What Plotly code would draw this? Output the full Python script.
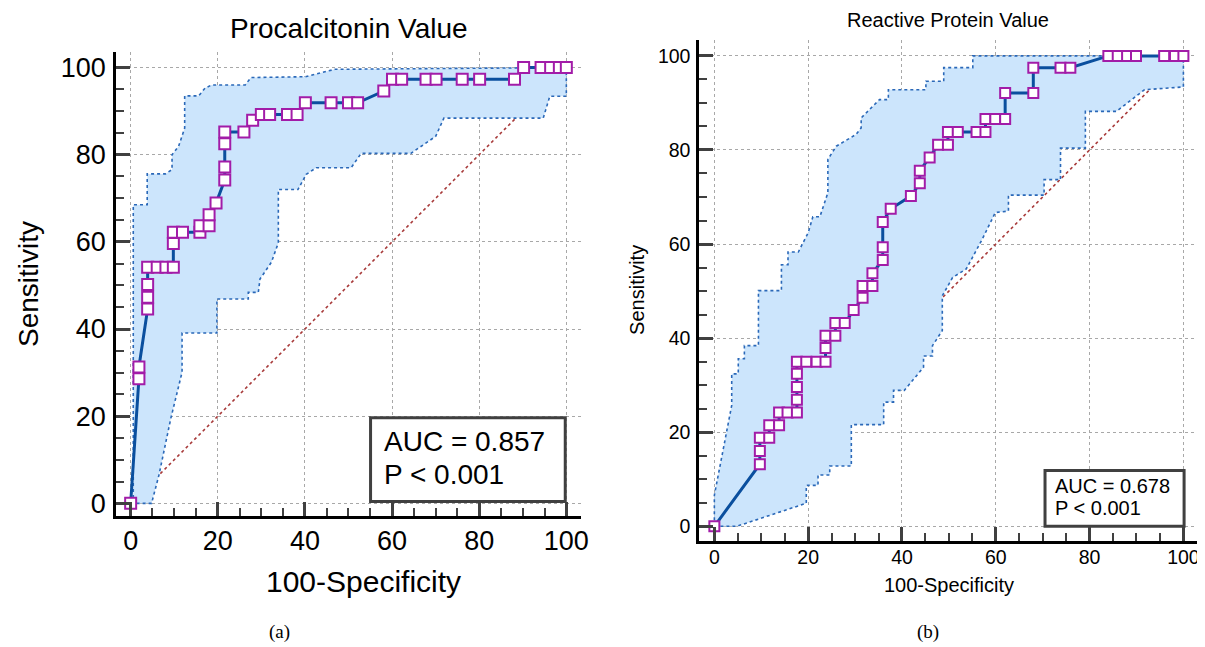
import plotly.graph_objects as go

# The page body adds an 8px margin, so the figure is laid out in page pixels minus 8.
OFF = 8
W, H = 1205 - OFF, 647 - OFF

# ---------------- Data: (a) Procalcitonin ----------------
pct_fpr = [0, 1.9, 1.9, 3.9, 3.9, 3.9, 3.9, 6.1, 8.1, 9.8, 9.8, 9.8, 11.9, 15.9, 15.9,
           18.0, 18.0, 19.6, 21.6, 21.6, 21.6, 21.6, 26.0, 28.0, 30.0, 31.9, 36.0, 38.2,
           40.1, 46.0, 50.0, 52.1, 58.1, 60.1, 62.2, 67.8, 70.1, 76.1, 80.1, 88.1, 90.2,
           94.2, 96.4, 98.4, 100]
pct_sens = [0, 28.6, 31.3, 44.6, 47.3, 50.2, 54.2, 54.2, 54.2, 54.2, 59.6, 62.2, 62.2, 62.2,
            63.7, 63.7, 66.2, 68.9, 74.2, 77.2, 82.5, 85.2, 85.2, 87.9, 89.2, 89.2, 89.2,
            89.2, 91.9, 91.9, 91.9, 91.9, 94.6, 97.3, 97.3, 97.3, 97.3, 97.3, 97.3, 97.3,
            100, 100, 100, 100, 100]
pct_up_x = [0, 0.6, 0.6, 3.8, 3.8, 8.0, 9.5, 9.5, 11.0, 12.4, 12.4, 15.6, 17.1, 18.6, 26.3,
            27.6, 40.1, 46.9, 100]
pct_up_y = [0, 1, 68.5, 68.5, 75.6, 75.6, 76.6, 80.0, 81.9, 86.1, 93.5, 93.5, 95.3, 96.0,
            96.0, 97.7, 97.9, 99.6, 100]
pct_lo_x = [0, 4.8, 6.5, 9.2, 11.8, 11.8, 19.8, 19.8, 27.0, 27.0, 29.3, 29.7, 32.3, 33.9,
            33.9, 38.4, 40.3, 42.6, 50.6, 52.9, 64.3, 70.0, 71.9, 94.7, 96.2, 100, 100]
pct_lo_y = [0, 0, 6.5, 19.4, 30.1, 39.1, 39.1, 46.9, 46.9, 48.4, 48.4, 51.5, 55.3, 59.8,
            72.0, 72.0, 75.5, 77.0, 77.0, 80.3, 80.3, 84.2, 88.4, 88.4, 93.4, 93.4, 100]

# ---------------- Data: (b) Reactive Protein ----------------
crp_fpr = [0, 9.7, 9.7, 9.7, 11.7, 11.7, 13.8, 13.8, 15.6, 17.6, 17.6, 17.6, 17.6, 17.6,
           19.6, 21.8, 23.7, 23.7, 23.7, 25.8, 25.8, 27.8, 29.7, 31.6, 31.6, 33.7, 33.7,
           35.9, 35.9, 35.9, 37.6, 41.9, 43.8, 43.8, 45.9, 47.7, 49.8, 49.8, 51.9, 55.9,
           57.8, 57.8, 59.9, 62.0, 62.0, 68.0, 68.0, 73.8, 75.9, 84.0, 86.0, 88.0, 89.9,
           95.9, 98.2, 100]
crp_sens = [0, 13.2, 16.0, 18.8, 18.8, 21.5, 21.5, 24.2, 24.2, 24.2, 26.9, 29.6, 32.4, 35.0,
            35.0, 35.0, 35.0, 37.9, 40.5, 40.5, 43.2, 43.2, 46.0, 48.6, 51.1, 51.1, 53.8,
            56.6, 59.3, 64.7, 67.5, 70.2, 72.9, 75.6, 78.4, 81.1, 81.1, 83.8, 83.8, 83.8,
            83.8, 86.6, 86.6, 86.6, 92.1, 92.1, 97.5, 97.5, 97.5, 100, 100, 100, 100, 100,
            100, 100]
crp_up_x = [0, 0, 3.7, 3.7, 5.1, 5.1, 6.4, 6.4, 9.4, 9.4, 14.3, 14.3, 15.7, 15.7, 17.9, 20.0,
            21.0, 22.5, 24.2, 24.2, 26.0, 28.5, 30.2, 31.3, 31.3, 33.8, 35.2, 37.1, 37.1,
            45.1, 45.1, 48.9, 48.9, 55.1, 55.1, 100]
crp_up_y = [0, 6.6, 25.7, 32.4, 32.4, 35.6, 35.6, 38.4, 38.4, 50.1, 50.1, 55.6, 55.6, 58.3,
            58.3, 62.4, 65.8, 65.8, 70.9, 78.0, 80.8, 82.2, 83.3, 84.7, 86.8, 89.3, 90.7,
            90.7, 92.8, 92.8, 94.6, 94.6, 97.5, 97.5, 100, 100]
crp_lo_x = [0, 4.8, 19.6, 19.6, 22.1, 22.1, 24.6, 24.6, 29.2, 29.2, 36.1, 36.1, 38.2, 38.2,
            40.5, 44.6, 44.6, 46.5, 46.5, 48.6, 48.6, 50.8, 53.7, 57.1, 59.9, 62.7, 62.7,
            70.3, 70.3, 73.8, 73.8, 79.1, 79.1, 85.7, 91.7, 100, 100]
crp_lo_y = [0, 0, 4.9, 8.7, 8.7, 10.9, 10.9, 12.8, 12.8, 21.6, 21.6, 26.4, 26.4, 28.9, 28.9,
            33.8, 36.2, 36.2, 38.4, 41.6, 49.0, 52.9, 54.7, 61.0, 66.7, 67.0, 70.4, 70.4,
            73.7, 73.7, 80.4, 80.4, 88.2, 88.2, 92.8, 93.4, 100]

titles = ["Procalcitonin Value", "Reactive Protein Value"]
auc_text = [["AUC = 0.857", "P < 0.001"], ["AUC = 0.678", "P < 0.001"]]
captions = ["(a)", "(b)"]
tick_vals = [0, 20, 40, 60, 80, 100]

FONT = "Liberation Sans, Arial, sans-serif"
SERIF = "Liberation Serif, Times New Roman, serif"
FILL = "#CCE5FC"
ROC_LINE = "#0A4F9E"
BAND_LINE = "#2A68B8"
MARK_EDGE = "#A21CA8"
DIAG = "#A83A3A"


def px(x):
    return (x - OFF) / W


def py(y):
    return 1 - (y - OFF) / H


fig = go.Figure()

panels = [
    dict(fpr=pct_fpr, sens=pct_sens, ux=pct_up_x, uy=pct_up_y, lx=pct_lo_x, ly=pct_lo_y,
         xa="x", ya="y", msize=11),
    dict(fpr=crp_fpr, sens=crp_sens, ux=crp_up_x, uy=crp_up_y, lx=crp_lo_x, ly=crp_lo_y,
         xa="x2", ya="y2", msize=10),
]

for p in panels:
    fig.add_trace(go.Scatter(x=[0, 100], y=[0, 100], mode="lines",
                             line=dict(color=DIAG, dash="dot", width=1.6),
                             xaxis=p["xa"], yaxis=p["ya"], hoverinfo="skip"))
    fig.add_trace(go.Scatter(x=p["ux"] + p["lx"][::-1], y=p["uy"] + p["ly"][::-1],
                             mode="lines", fill="toself", fillcolor=FILL,
                             line=dict(width=0), xaxis=p["xa"], yaxis=p["ya"],
                             hoverinfo="skip"))
    for bx, by in ((p["ux"], p["uy"]), (p["lx"], p["ly"])):
        fig.add_trace(go.Scatter(x=bx, y=by, mode="lines",
                                 line=dict(color=BAND_LINE, dash="dot", width=1.6),
                                 xaxis=p["xa"], yaxis=p["ya"], hoverinfo="skip"))
    fig.add_trace(go.Scatter(x=p["fpr"], y=p["sens"], mode="lines+markers",
                             line=dict(color=ROC_LINE, width=3),
                             marker=dict(symbol="square", size=p["msize"], color="white",
                                         line=dict(color=MARK_EDGE, width=2)),
                             xaxis=p["xa"], yaxis=p["ya"]))


def axis(domain, rng, fsize, standoff):
    return dict(domain=domain, range=rng, tickvals=tick_vals, showgrid=True,
                gridcolor="#A8A8A8", griddash="dot", gridwidth=1, zeroline=False,
                showline=True, linecolor="black", linewidth=3, mirror=False,
                ticks="inside", ticklen=14, tickwidth=3, tickcolor="#404040",
                minor=dict(ticks="inside", ticklen=8, tickwidth=2, tickcolor="#404040",
                           dtick=5, showgrid=False),
                tickfont=dict(family=FONT, size=fsize, color="black"),
                ticklabelstandoff=standoff, fixedrange=True)


layout = dict(
    width=W, height=H, margin=dict(l=0, r=0, t=0, b=0),
    paper_bgcolor="white", plot_bgcolor="white", showlegend=False,
    xaxis=axis([px(117), px(585)], [-3.3, 103.4], 27, -2),
    yaxis=axis([py(518), py(52)], [-3.0, 103.6], 27, 2),
    xaxis2=axis([px(704), 1.0], [-3.2, 102.9], 19.5, -4),
    yaxis2=axis([py(543), py(40)], [-3.2, 103.4], 19.5, 2),
)
layout["yaxis"]["anchor"] = "x"
layout["xaxis"]["anchor"] = "y"
layout["xaxis2"]["anchor"] = "y2"
layout["yaxis2"]["anchor"] = "x2"
fig.update_layout(**layout)

ann = []


def text(x, y, s, size, family=FONT, angle=0, xanchor="center"):
    ann.append(dict(x=px(x), y=py(y), xref="paper", yref="paper", text=s, showarrow=False,
                    font=dict(family=family, size=size, color="black"), textangle=angle,
                    xanchor=xanchor, yanchor="middle"))


# titles
text(351, 29, titles[0], 28)
text(954, 20, titles[1], 20)
# axis titles
text(366, 583, "100-Specificity", 30)
text(28, 285, "Sensitivity", 28, angle=-90)
text(955, 587, "100-Specificity", 20)
text(641, 291, "Sensitivity", 20, angle=-90)
# AUC boxes
shapes = [
    dict(type="rect", xref="paper", yref="paper", x0=px(373), x1=px(569), y0=py(503),
         y1=py(419), line=dict(color="#404040", width=3), fillcolor="white"),
    dict(type="rect", xref="paper", yref="paper", x0=px(1052), x1=px(1192), y0=py(528),
         y1=py(472), line=dict(color="#404040", width=3), fillcolor="white"),
]
text(385, 443, auc_text[0][0], 28, xanchor="left")
text(385, 476, auc_text[0][1], 28, xanchor="left")
text(1060, 488, auc_text[1][0], 20, xanchor="left")
text(1060, 510, auc_text[1][1], 20, xanchor="left")
# captions
text(281, 634, captions[0], 19, family=SERIF)
text(934, 634, captions[1], 19, family=SERIF)

fig.update_layout(annotations=ann, shapes=shapes)
fig.write_html("out.html")
